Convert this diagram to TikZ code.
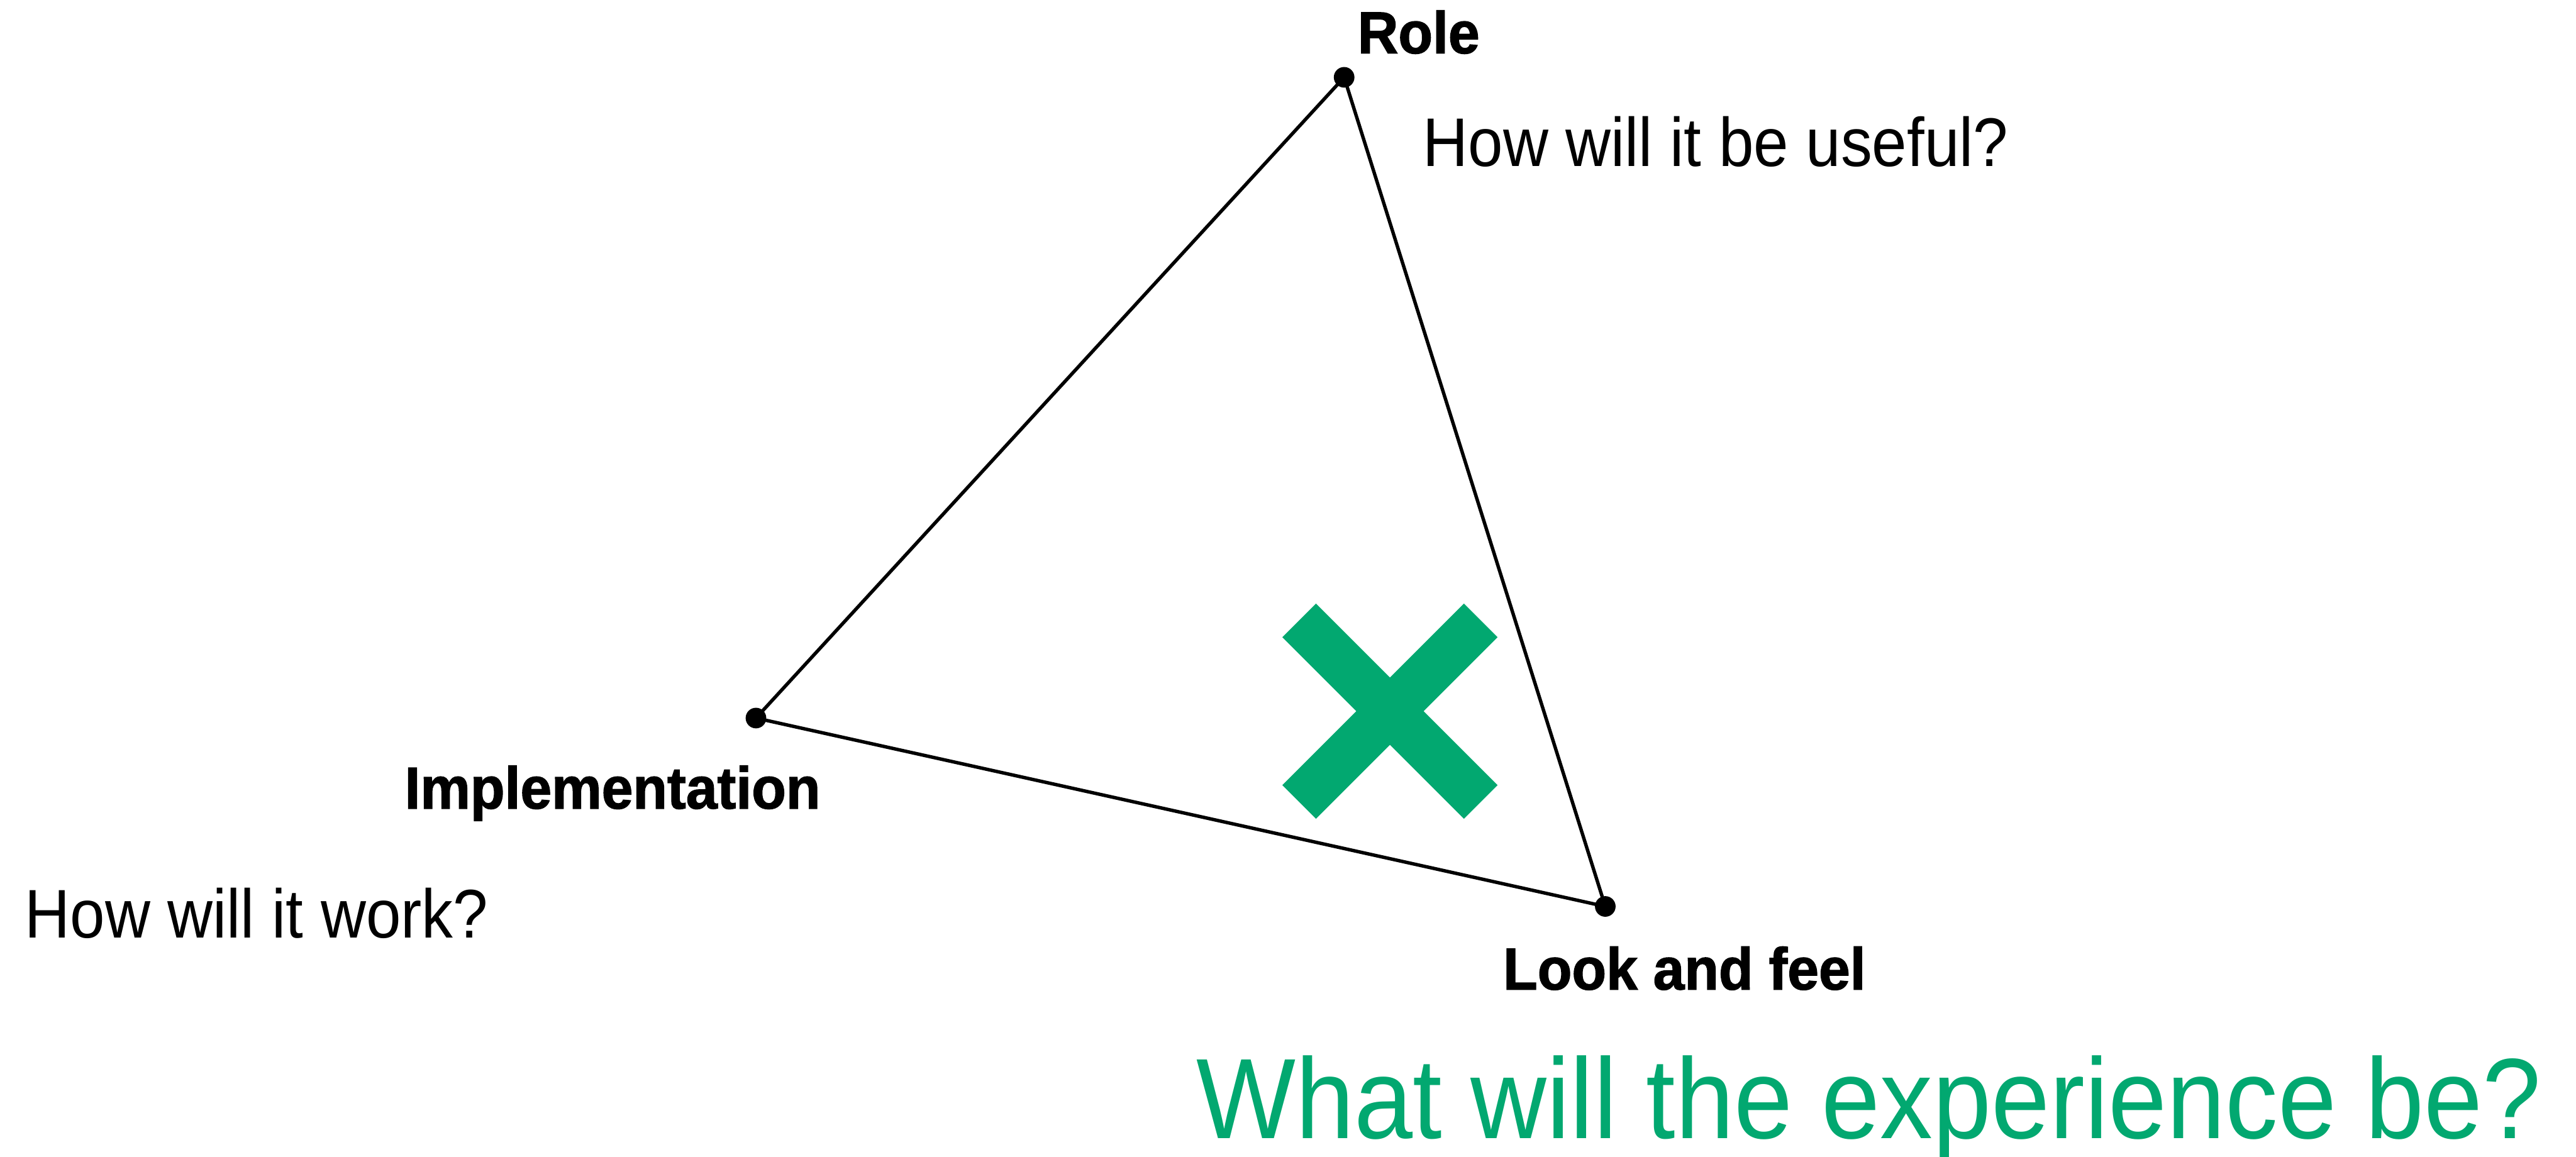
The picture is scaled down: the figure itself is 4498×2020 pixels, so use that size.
\documentclass[tikz,border=0pt]{standalone}
\usepackage{fontspec}
\setmainfont{Liberation Sans}
\newfontfamily\plainfont[FakeStretch=0.91]{Liberation Sans}
\newfontfamily\headlinefont[FakeStretch=0.92]{Liberation Sans}
\newfontfamily\headfont[FakeStretch=0.95,BoldFeatures={FakeBold=1.5}]{Liberation Sans}
\definecolor{accent}{HTML}{02A870}
\begin{document}
\begin{tikzpicture}[x=0.01cm,y=-0.01cm,
  vertex/.style={circle,fill=black,inner sep=0pt,minimum size=0.36cm},
  edge/.style={line width=1.7pt,black},
  corner/.style={anchor=base west,inner sep=0pt,font=\headfont\bfseries\fontsize{29.4}{32}\selectfont},
  question/.style={anchor=base west,inner sep=0pt,font=\plainfont\fontsize{34.2}{40}\selectfont},
  headline/.style={anchor=base west,inner sep=0pt,text=accent,font=\headlinefont\fontsize{56.8}{64}\selectfont}]
\useasboundingbox (0,0) rectangle (4498,2020);

% corners of the triangle
\node[vertex] (role) at (2347,135) {};
\node[vertex] (impl) at (1320,1254) {};
\node[vertex] (look) at (2803,1583) {};

\draw[edge] (role.center) -- (impl.center) -- (look.center) -- (role.center);

% labels
\node[corner] (rolelabel) at (2370,93) {Role};
\node[corner] (impllabel) at (706,1412) {Implementation};
\node[corner] (looklabel) at (2624,1728) {Look and feel};

\node[question] (useful) at (2484,290) {How will it be useful?};
\node[question] (work) at (43,1638) {How will it work?};
\node[headline] (experience) at (2088,1988) {What will the experience be?};

% the cross mark
\coordinate (xc) at (2427,1242);
\draw[accent,line width=23.6pt] ([shift={(-158.5,-158.5)}]xc) -- ([shift={(158.5,158.5)}]xc);
\draw[accent,line width=23.6pt] ([shift={(-158.5,158.5)}]xc) -- ([shift={(158.5,-158.5)}]xc);
\end{tikzpicture}
\end{document}
